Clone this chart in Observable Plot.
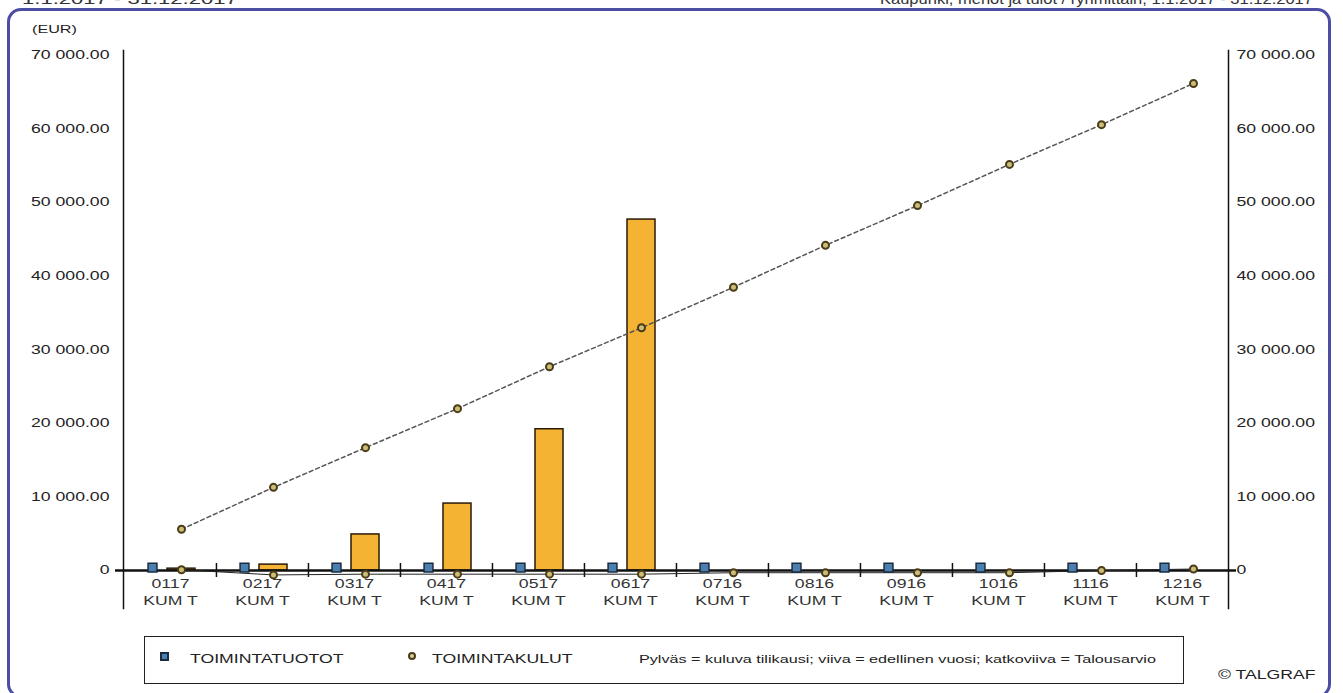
<!DOCTYPE html>
<html>
<head>
<meta charset="utf-8">
<script src="https://cdn.jsdelivr.net/npm/d3@7"></script>
<script src="https://cdn.jsdelivr.net/npm/@observablehq/plot@0.6"></script>
<style>
  html, body { margin: 0; padding: 0; background: #fff; }
  body { width: 1343px; height: 693px; position: relative; overflow: hidden; font-family: "Liberation Sans", Arial, sans-serif; color: #222; }
  #frame { position: absolute; left: 7px; top: 8px; width: 1324px; height: 690px; border: 3px solid #4b4ea3; border-radius: 14px; box-sizing: border-box; }
  #chart { position: absolute; left: 0; top: 0; }
  .t { position: absolute; font-size: 12px; white-space: nowrap; transform: scaleX(1.47); transform-origin: 0 0; }
  #legend { position: absolute; left: 144px; top: 636px; width: 1040px; height: 48px; border: 1.5px solid #222; box-sizing: border-box; background: #fff; }
  .sq { position: absolute; width: 5px; height: 5px; background: #4a7fb0; border: 2px solid #1b2b3f; }
  .ci { position: absolute; width: 4px; height: 4px; background: #d8d09a; border: 2px solid #4a3c18; border-radius: 50%; }
</style>
</head>
<body>
<div class="t" style="left:22px; top:-10px; font-size:15px; color:#333;">1.1.2017 - 31.12.2017</div>
<div class="t" style="left:880px; top:-10px; font-size:15px; color:#333; transform:scaleX(1.1);">Kaupunki, menot ja tulot / ryhmittäin, 1.1.2017 - 31.12.2017</div>
<div id="frame"></div>
<div id="chart"></div>
<div class="t" style="left:32px; top:23px; font-size:11px;">(EUR)</div>
<div id="legend">
  <div class="sq" style="left:15px; top:15px;"></div>
  <div class="t" style="left:45px; top:15px;">TOIMINTATUOTOT</div>
  <div class="ci" style="left:263px; top:15px;"></div>
  <div class="t" style="left:287px; top:15px;">TOIMINTAKULUT</div>
  <div class="t" style="left:494px; top:16px; font-size:10.5px; transform:scaleX(1.54);">Pylväs = kuluva tilikausi; viiva = edellinen vuosi; katkoviiva = Talousarvio</div>
</div>
<div class="t" style="left:1218px; top:668px;">© TALGRAF</div>
<script>
const categories = ["0117","0217","0317","0417","0517","0617","0716","0816","0916","1016","1116","1216"];
const periodLabel = "KUM T";
// TOIMINTAKULUT, kuluva tilikausi (bars)
const kulutKuluva = [250, 800, 4900, 9100, 19200, 47700, null, null, null, null, null, null];
// TOIMINTAKULUT, edellinen vuosi (line near zero)
const kulutEdellinen = [100, -600, -500, -500, -500, -500, -300, -300, -300, -300, 0, 200];
// TOIMINTAKULUT, talousarvio (dashed line)
const kulutTalousarvio = [5600, 11300, 16700, 22000, 27700, 33000, 38500, 44200, 49600, 55200, 60600, 66200];
// TOIMINTATUOTOT (markers near zero)
const tuotot = [400, 400, 400, 400, 400, 400, 400, 400, 400, 400, 400, 400];
const yTicks = [0, 10000, 20000, 30000, 40000, 50000, 60000, 70000];

const rows = categories.map((c, i) => ({
  cat: c, kuluva: kulutKuluva[i], edellinen: kulutEdellinen[i],
  budjetti: kulutTalousarvio[i], tuotot: tuotot[i]
}));

const fmtNum = d => d === 0 ? "0" : d3.format(",.2f")(d).replace(/,/g, " ");
const W = 1343, ML = 123, MR = 115;
const bw = (W - ML - MR) / categories.length;

const chart = Plot.plot({
  width: W, height: 693,
  marginLeft: ML, marginRight: MR, marginTop: 50, marginBottom: 85,
  style: { fontFamily: "Liberation Sans, Arial, sans-serif", fontSize: "12px", color: "#222", background: "transparent" },
  x: { type: "band", domain: categories, padding: 0, axis: null },
  y: { domain: [-5165, 70680], axis: null },
  marks: [
    Plot.axisY({ anchor: "left", ticks: yTicks, tickSize: 0, tickPadding: 14, tickFormat: fmtNum, fontSize: 12 }),
    Plot.axisY({ anchor: "right", ticks: yTicks, tickSize: 0, tickPadding: 8, tickFormat: fmtNum, fontSize: 12 }),
    Plot.frame({ anchor: "left", stroke: "#111", strokeWidth: 1.5 }),
    Plot.frame({ anchor: "right", stroke: "#111", strokeWidth: 1.5 }),
    Plot.barY(rows, { x: "cat", y: "kuluva", fill: "#f5b334", stroke: "#2a1a08", strokeWidth: 1.5, insetLeft: 43, insetRight: 21 }),
    Plot.ruleY([0], { stroke: "#111", strokeWidth: 2.5, insetLeft: -8, insetRight: -8 }),
    Plot.ruleX(categories.slice(1), { x: d => d, y1: -950, y2: 950, dx: -bw / 2, stroke: "#111", strokeWidth: 1.5 }),
    Plot.line(rows, { x: "cat", y: "edellinen", dx: 11, stroke: "#222", strokeWidth: 1 }),
    Plot.line(rows, { x: "cat", y: "budjetti", dx: 11, stroke: "#555", strokeWidth: 1.5, strokeDasharray: "4,3" }),
    Plot.dot(rows, { x: "cat", y: "budjetti", dx: 11, r: 3.5, fill: "#c9bd78", stroke: "#4a3c18", strokeWidth: 2 }),
    Plot.dot(rows, { x: "cat", y: "edellinen", dx: 11, r: 3.5, fill: "#c9bd78", stroke: "#4a3c18", strokeWidth: 2 }),
    Plot.dot(rows, { x: "cat", y: "tuotot", dx: -18, symbol: "square", r: 5, fill: "#4a7fb0", stroke: "#1b2b3f", strokeWidth: 1.5 }),
    Plot.text(rows, { x: "cat", y: 0, text: "cat", dy: 14, fontSize: 12, fill: "#333" }),
    Plot.text(rows, { x: "cat", y: 0, text: () => periodLabel, dy: 31, fontSize: 12, fill: "#333" })
  ]
});
document.getElementById("chart").appendChild(chart);
// widen the glyphs like the reference's horizontally stretched lettering
chart.querySelectorAll("text").forEach(t => {
  const len = t.getComputedTextLength();
  if (len > 0) {
    t.setAttribute("textLength", (len * 1.47).toFixed(1));
    t.setAttribute("lengthAdjust", "spacingAndGlyphs");
  }
});
</script>
</body>
</html>
